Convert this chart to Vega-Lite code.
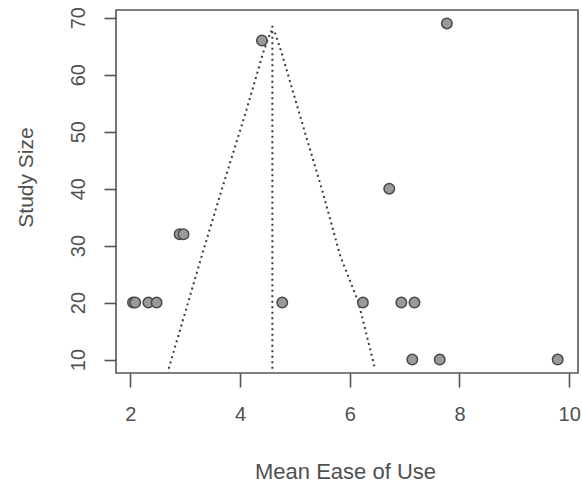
{
  "$schema": "https://vega.github.io/schema/vega-lite/v6.json",
  "width": 462,
  "height": 363,
  "autosize": {"type": "none"},
  "padding": {"left": 116, "top": 10, "right": 4, "bottom": 114},
  "background": "white",
  "config": {
    "view": {"stroke": "#555555", "strokeWidth": 1.6},
    "font": "Liberation Sans",
    "axis": {
      "domain": false,
      "grid": false,
      "tickColor": "#555555",
      "tickWidth": 1.6,
      "labelColor": "#505050",
      "titleColor": "#505050",
      "labelFont": "Liberation Sans",
      "titleFont": "Liberation Sans",
      "titleFontWeight": "normal"
    }
  },
  "datasets": {
    "studies": [
      {"mean": 2.05, "n": 20},
      {"mean": 2.09, "n": 20},
      {"mean": 2.33, "n": 20},
      {"mean": 2.48, "n": 20},
      {"mean": 2.9, "n": 32},
      {"mean": 2.97, "n": 32},
      {"mean": 4.4, "n": 66},
      {"mean": 4.77, "n": 20},
      {"mean": 6.24, "n": 20},
      {"mean": 6.72, "n": 40},
      {"mean": 6.94, "n": 20},
      {"mean": 7.18, "n": 20},
      {"mean": 7.14, "n": 10},
      {"mean": 7.64, "n": 10},
      {"mean": 7.77, "n": 69},
      {"mean": 9.79, "n": 10}
    ],
    "funnel": [
      {"order": 1, "x": 2.70, "y": 8.4},
      {"order": 2, "x": 3.30, "y": 28.1},
      {"order": 3, "x": 3.65, "y": 39.3},
      {"order": 4, "x": 4.12, "y": 53.9},
      {"order": 5, "x": 4.42, "y": 63.8},
      {"order": 6, "x": 4.56, "y": 67.6},
      {"order": 7, "x": 4.63, "y": 67.6},
      {"order": 8, "x": 4.76, "y": 63.8},
      {"order": 9, "x": 5.06, "y": 53.9},
      {"order": 10, "x": 5.51, "y": 39.3},
      {"order": 11, "x": 5.83, "y": 28.1},
      {"order": 12, "x": 6.16, "y": 20},
      {"order": 13, "x": 6.46, "y": 8.4}
    ],
    "center": [
      {"x": 4.59, "y": 8.4, "y2": 69}
    ]
  },
  "layer": [
    {
      "data": {"name": "funnel"},
      "mark": {"type": "line", "color": "#3a3a3a", "strokeWidth": 2, "strokeDash": [2, 3.5], "clip": true},
      "encoding": {
        "x": {"field": "x", "type": "quantitative"},
        "y": {"field": "y", "type": "quantitative"},
        "order": {"field": "order", "type": "quantitative"}
      }
    },
    {
      "data": {"name": "center"},
      "mark": {"type": "rule", "color": "#3a3a3a", "strokeWidth": 2, "strokeDash": [2, 3.5]},
      "encoding": {
        "x": {"field": "x", "type": "quantitative"},
        "y": {"field": "y", "type": "quantitative"},
        "y2": {"field": "y2"}
      }
    },
    {
      "data": {"name": "studies"},
      "mark": {"type": "point", "shape": "circle", "filled": false, "fill": "#9a9a9a", "fillOpacity": 1, "stroke": "#4a4a4a", "strokeWidth": 1.5, "size": 110, "opacity": 1},
      "encoding": {
        "x": {
          "field": "mean", "type": "quantitative",
          "scale": {"domain": [1.74, 10.16], "nice": false, "zero": false},
          "axis": {
            "values": [2, 4, 6, 8, 10],
            "format": "d",
            "title": "Mean Ease of Use",
            "labelFontSize": 20,
            "titleFontSize": 22,
            "tickSize": 14,
            "labelPadding": 17,
            "labelBaseline": "top",
            "titleBaseline": "alphabetic",
            "titleY": 105,
            "titleX": 229,
            "titleAlign": "center"
          }
        },
        "y": {
          "field": "n", "type": "quantitative",
          "scale": {"domain": [7.64, 71.36], "nice": false, "zero": false},
          "axis": {
            "values": [10, 20, 30, 40, 50, 60, 70],
            "format": "d",
            "title": "Study Size",
            "labelFontSize": 20,
            "titleFontSize": 21,
            "tickSize": 12,
            "labelPadding": 16,
            "labelAngle": -90,
            "labelAlign": "center",
            "labelBaseline": "bottom",
            "titleAngle": -90,
            "titleBaseline": "alphabetic",
            "titleAlign": "center",
            "titleX": -84,
            "titleY": 167
          }
        }
      }
    }
  ]
}
